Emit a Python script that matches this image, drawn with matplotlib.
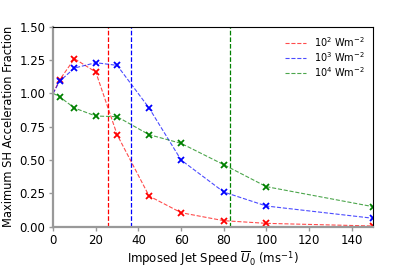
import matplotlib
matplotlib.use("Agg")
import matplotlib.pyplot as plt

speeds = [0, 3, 10, 20, 30, 45, 60, 80, 100, 150]
red = [1.0, 1.10, 1.26, 1.16, 0.69, 0.23, 0.105, 0.045, 0.025, 0.005]
blue = [1.0, 1.09, 1.19, 1.23, 1.21, 0.89, 0.50, 0.26, 0.155, 0.063]
green = [1.0, 0.975, 0.89, 0.83, 0.825, 0.69, 0.625, 0.465, 0.30, 0.15]
vlines = [25.6, 36.5, 82.8]
labels = [r"10$^2$ Wm$^{-2}$", r"10$^3$ Wm$^{-2}$", r"10$^4$ Wm$^{-2}$"]
colors = ["red", "blue", "green"]

fig = plt.figure(figsize=(4.15, 2.67), dpi=100)
ax = fig.add_axes([0.128, 0.151, 0.771, 0.749])

for ys, c, lab, xv in zip([red, blue, green], colors, labels, vlines):
    ax.plot(speeds, ys, ls="--", color=c, lw=0.8, alpha=0.7, label=lab)
    ax.plot(speeds[1:], ys[1:], ls="none", marker="x", color=c, ms=4.5, mew=1.3)
    ax.axvline(xv, color=c, ls="--", lw=0.9)

ax.set_xlim(0, 150)
ax.set_ylim(0, 1.5)
ax.set_yticks([0, 0.25, 0.5, 0.75, 1.0, 1.25, 1.5])
ax.set_xticks([0, 20, 40, 60, 80, 100, 120, 140])
for s in ["left", "bottom"]:
    ax.spines[s].set_color("#999999")
    ax.spines[s].set_linewidth(1.6)
ax.tick_params(axis="both", labelsize=8.5, color="#999999", width=1, length=3, pad=2.5)
ax.set_xlabel(r"Imposed Jet Speed $\overline{U}_0$ (ms$^{-1}$)", fontsize=8.5, labelpad=1.5)
ax.set_ylabel("Maximum SH Acceleration Fraction", fontsize=8.3, labelpad=3)
ax.legend(loc="upper right", frameon=False, fontsize=7, handlelength=2.2,
          labelspacing=0.12, borderaxespad=0.45)

fig.savefig("out.png", dpi=100)
